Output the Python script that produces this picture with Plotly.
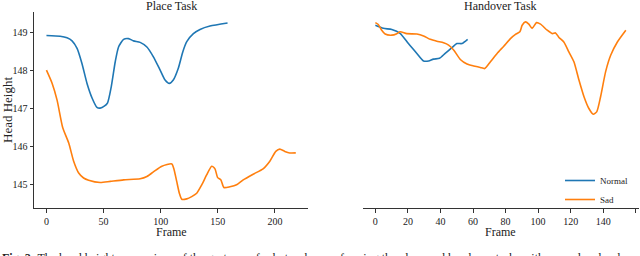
import plotly.graph_objects as go

# Place task
place_normal_frame = [0, 12, 18, 22.4, 26.8, 31, 35.5, 40, 44.2, 47, 50.6, 53.5, 56.7, 60.2, 63.1, 67.5, 71.8,
                      76.2, 82, 87.9, 93.6, 99.5, 103.8, 107.6, 111, 115.4, 119.3, 122.8, 128.6, 134.4, 143.1, 158.5]
place_normal_height = [148.91, 148.89, 148.85, 148.77, 148.57, 148.18, 147.65, 147.26, 147.02, 147.0, 147.05, 147.14,
                       147.56, 148.22, 148.61, 148.81, 148.83, 148.77, 148.73, 148.61, 148.35, 148.0, 147.74, 147.65,
                       147.74, 148.05, 148.48, 148.75, 148.96, 149.07, 149.16, 149.24]

place_sad_frame = [0, 5, 9.3, 14.2, 19.5, 23.8, 28.2, 32.5, 36.9, 47, 55.8, 67.5, 82, 87.9, 93.6, 101, 109.7, 111.7,
                   114, 116.3, 118.4, 122.8, 127.1, 131.5, 135.9, 140.2, 144.6, 147.5, 149.8, 152.7, 155.3, 160.6,
                   166.4, 172.2, 180.9, 189.6, 195.5, 200.7, 204.2, 208.6, 212.9, 218.2]
place_sad_height = [148.0, 147.65, 147.21, 146.49, 146.08, 145.6, 145.29, 145.16, 145.1, 145.04, 145.07, 145.11,
                    145.14, 145.2, 145.32, 145.47, 145.53, 145.38, 145.07, 144.76, 144.6, 144.61, 144.67, 144.76,
                    144.98, 145.24, 145.47, 145.4, 145.17, 145.11, 144.91, 144.93, 144.98, 145.11, 145.26, 145.4,
                    145.6, 145.86, 145.92, 145.86, 145.82, 145.82]

# Handover task
hand_normal_frame = [0, 4.9, 10.1, 15.2, 20.3, 25.5, 29.6, 32.7, 35.7, 39.4, 42.9, 47, 50.1, 53.2, 56.7]
hand_normal_height = [149.18, 149.1, 149.07, 148.97, 148.7, 148.44, 148.24, 148.24, 148.29, 148.31, 148.44,
                      148.59, 148.7, 148.7, 148.81]

hand_sad_frame = [0, 1.8, 3.9, 6, 10.1, 13.2, 15.2, 19.3, 25.5, 29.6, 33.7, 37.8, 41.9, 45, 48.1, 52.2, 56.3,
                  60.4, 64.5, 67.2, 70.7, 74.8, 78.9, 83, 86.1, 88.8, 90.2, 92.2, 94.3, 96.3, 99, 101.5, 105.6,
                  108.7, 110.7, 112.8, 115.8, 118.9, 122, 125.1, 128.2, 131.2, 133.9, 136, 138.4, 141.5, 144.6,
                  148.7, 153.9]
hand_sad_height = [149.25, 149.2, 149.05, 148.95, 148.92, 148.96, 149.01, 148.96, 148.95, 148.9, 148.81, 148.76,
                   148.72, 148.66, 148.53, 148.28, 148.16, 148.11, 148.07, 148.04, 148.22, 148.44, 148.63, 148.83,
                   148.94, 149.01, 149.18, 149.27, 149.21, 149.1, 149.25, 149.21, 149.05, 148.96, 148.98, 148.86,
                   148.74, 148.48, 148.22, 147.74, 147.3, 146.99, 146.84, 146.9, 147.3, 147.96, 148.39, 148.74,
                   149.05]

place_ticks = [0, 50, 100, 150, 200]
hand_ticks = [0, 20, 40, 60, 80, 100, 120, 140, 160]
y_ticks = [145, 146, 147, 148, 149]

BLUE = "#1f77b4"
ORANGE = "#ff7f0e"
FONT = "Liberation Serif"
LINE = dict(width=1.6, shape="spline", smoothing=0.6)

fig = go.Figure()
fig.add_trace(go.Scatter(x=place_normal_frame, y=place_normal_height, mode="lines", line=dict(color=BLUE, **LINE),
                         xaxis="x", yaxis="y", showlegend=False))
fig.add_trace(go.Scatter(x=place_sad_frame, y=place_sad_height, mode="lines", line=dict(color=ORANGE, **LINE),
                         xaxis="x", yaxis="y", showlegend=False))
fig.add_trace(go.Scatter(x=hand_normal_frame, y=hand_normal_height, mode="lines", name="Normal",
                         line=dict(color=BLUE, **LINE), xaxis="x2", yaxis="y2"))
fig.add_trace(go.Scatter(x=hand_sad_frame, y=hand_sad_height, mode="lines", name="Sad",
                         line=dict(color=ORANGE, **LINE), xaxis="x2", yaxis="y2"))

axis_common = dict(showgrid=False, zeroline=False, showline=True, linecolor="#333", linewidth=1,
                   ticks="outside", ticklen=3.5, tickcolor="#333", tickwidth=1, automargin=False,
                   tickfont=dict(family=FONT, size=10, color="#222"))

fig.update_layout(
    template="none",
    width=640, height=256,
    margin=dict(l=0, r=0, t=0, b=0),
    paper_bgcolor="white", plot_bgcolor="white",
    font=dict(family=FONT, color="#222"),
    xaxis=dict(domain=[34/640, 308/640], range=[-10.9, 228.9], tickvals=place_ticks, anchor="y", **axis_common),
    yaxis=dict(domain=[1-208/256, 1-12/256], range=[144.37, 149.53], tickvals=y_ticks, anchor="x", **axis_common),
    xaxis2=dict(domain=[363/640, 639/640], range=[-7.6, 162.0], tickvals=hand_ticks, anchor="y2", **axis_common),
    yaxis2=dict(domain=[1-208/256, 1-12/256], matches="y", anchor="x2", showgrid=False, zeroline=False,
                showline=False, showticklabels=False, ticks="", automargin=False),
    legend=dict(x=560/640, xanchor="left", y=1-166/256, yanchor="top", bgcolor="rgba(0,0,0,0)",
                font=dict(family=FONT, size=9, color="#222"), tracegroupgap=0, itemwidth=30),
    annotations=[
        dict(text="Place Task", x=171/640, y=1-6/256, xref="paper", yref="paper", showarrow=False,
             xanchor="center", yanchor="middle", font=dict(family=FONT, size=12)),
        dict(text="Handover Task", x=500/640, y=1-6/256, xref="paper", yref="paper", showarrow=False,
             xanchor="center", yanchor="middle", font=dict(family=FONT, size=12)),
        dict(text="Frame", x=171/640, y=1-232/256, xref="paper", yref="paper", showarrow=False,
             xanchor="center", yanchor="middle", font=dict(family=FONT, size=12)),
        dict(text="Frame", x=500/640, y=1-232/256, xref="paper", yref="paper", showarrow=False,
             xanchor="center", yanchor="middle", font=dict(family=FONT, size=12)),
        dict(text="Head Height", x=7/640, y=1-110/256, xref="paper", yref="paper", showarrow=False,
             textangle=-90, xanchor="center", yanchor="middle", font=dict(family=FONT, size=13)),
        dict(text="<b>Fig. 2:</b> The head height comparison of the gestures of robots when performing the place and handover tasks with normal and sad emotions.",
             x=0.0, y=1-249/256, xref="paper", yref="paper", showarrow=False,
             xanchor="left", yanchor="top", font=dict(family=FONT, size=12)),
    ],
)

fig.write_html("out.html", config={"displayModeBar": False, "staticPlot": True},
               post_script="document.body.style.margin='0';document.body.style.overflow='hidden';")
